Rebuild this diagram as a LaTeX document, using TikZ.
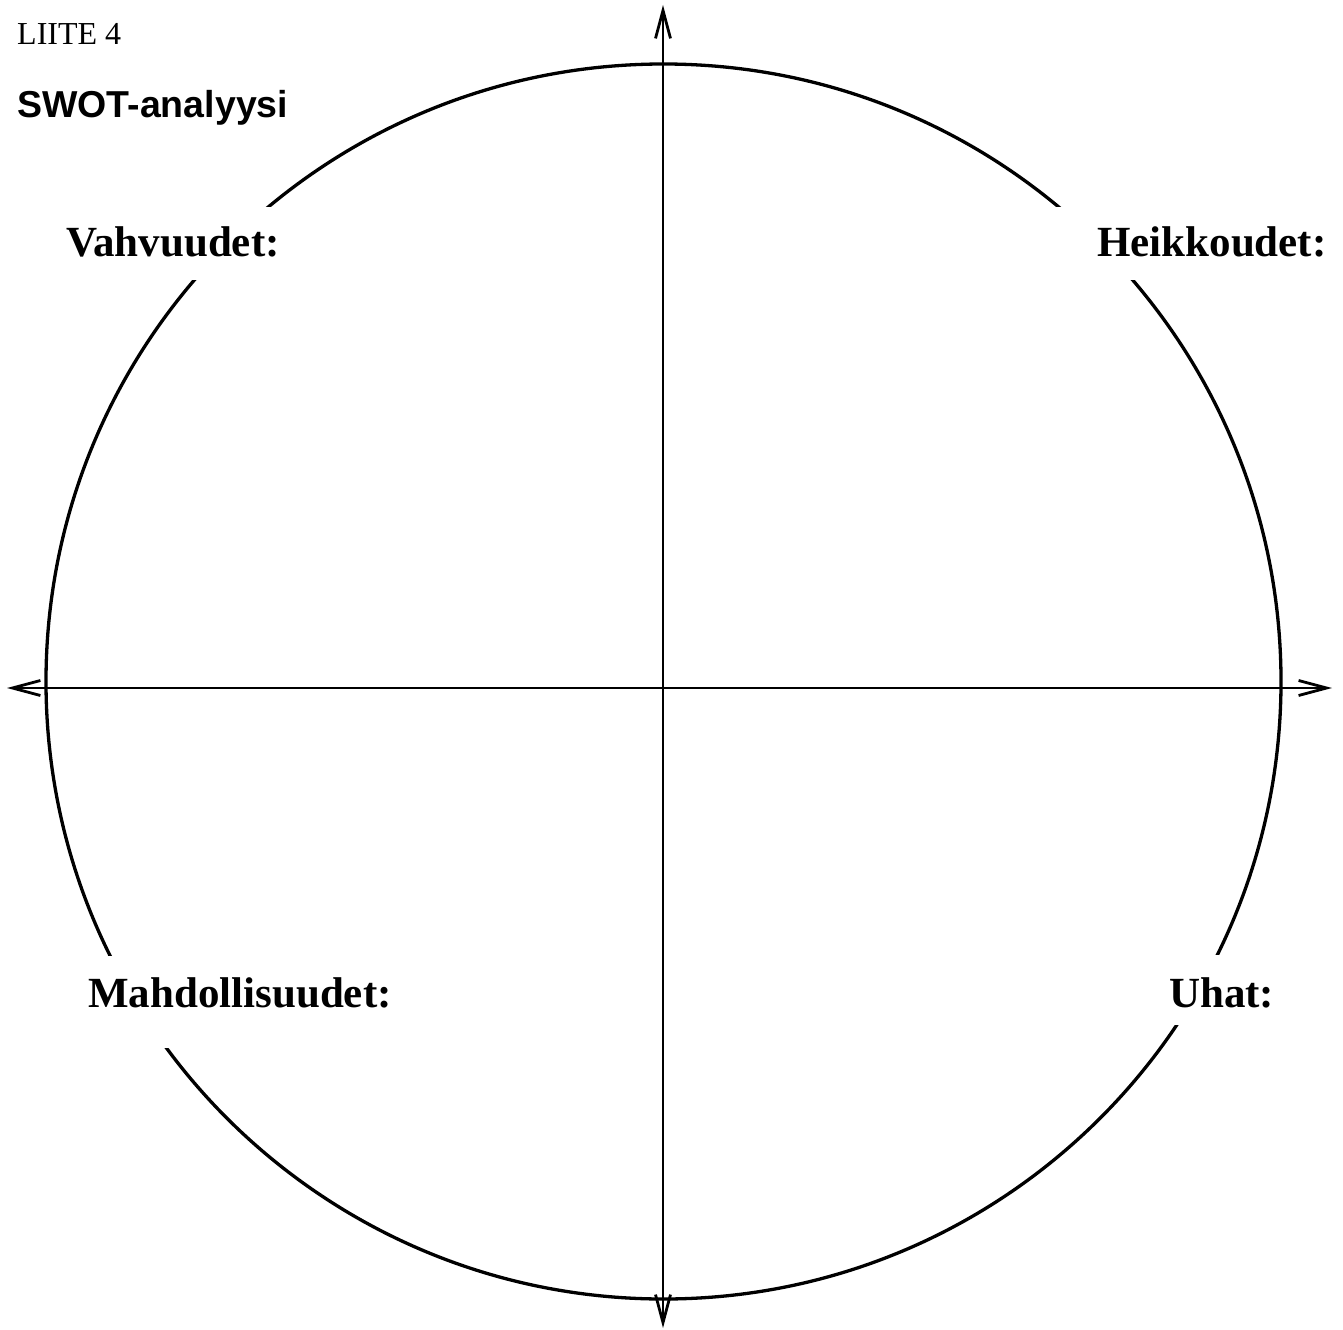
\documentclass[tikz,border=0pt]{standalone}
\usepackage{fontspec}
\setmainfont{Liberation Serif}
\newfontfamily\arialfont{Liberation Sans}
\usetikzlibrary{arrows.meta}
\begin{document}
\begin{tikzpicture}[x=1bp,y=-1bp,
  axis/.style={line width=2.8bp,-{Straight Barb[length=28bp,width=15bp,line width=2.8bp]}},
  ring/.style={line width=3.3bp},
  gapbox/.style={fill=white,draw=none},
  quad/.style={anchor=base west,inner sep=0pt,font=\fontsize{43bp}{48bp}\selectfont\bfseries}]
\useasboundingbox (0,0) rectangle (1343,1330);
% circle
\coordinate (c) at (663.5,681.5);
\draw[ring] (c) circle[radius=617.5];
% gaps behind labels
\fill[gapbox] (60,207) rectangle (290,280);
\fill[gapbox] (1045,207) rectangle (1330,280);
\fill[gapbox] (80,956) rectangle (395,1048);
\fill[gapbox] (1155,955) rectangle (1280,1025);
% axes
\coordinate (o) at (663,688);
\coordinate (top) at (663,5);
\coordinate (bottom) at (663,1328);
\coordinate (left) at (7,688);
\coordinate (right) at (1332,688);
\draw[axis] (o) -- (top);
\draw[axis] (o) -- (bottom);
\draw[axis] (o) -- (left);
\draw[axis] (o) -- (right);
% texts
\node[anchor=base west,inner sep=0pt,font=\fontsize{32bp}{36bp}\selectfont] (liite) at (17,45) {LIITE 4};
\node[anchor=base west,inner sep=0pt,font=\fontsize{37.5bp}{42bp}\selectfont\arialfont\bfseries] (swot) at (17,118) {SWOT-analyysi};
\node[quad] (s) at (66,257) {Vahvuudet:};
\node[quad] (w) at (1097,257) {Heikkoudet:};
\node[quad] (op) at (88,1007) {Mahdollisuudet:};
\node[quad] (t) at (1169,1007) {Uhat:};
\end{tikzpicture}
\end{document}
